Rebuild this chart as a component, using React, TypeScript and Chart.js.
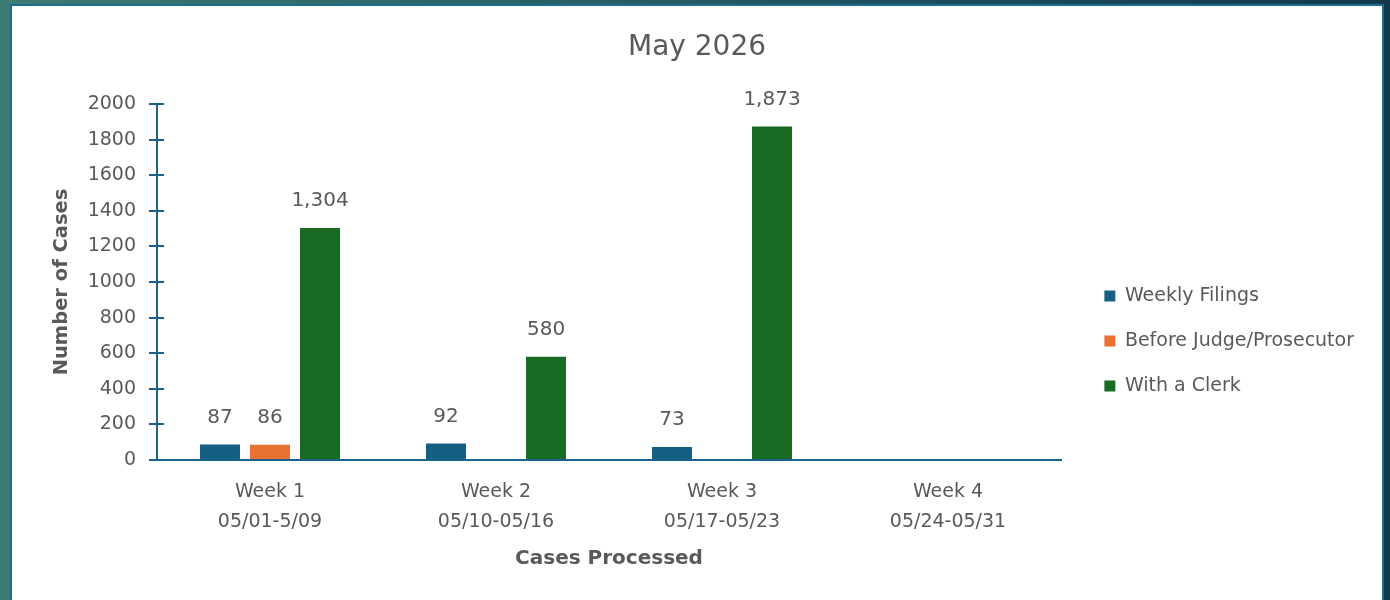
import React, { useEffect, useRef } from "react";
import { Chart, registerables } from "chart.js";

Chart.register(...registerables);

const chartTitle = "May 2026";
const categories: string[][] = [
  ["Week 1", "05/01-5/09"],
  ["Week 2", "05/10-05/16"],
  ["Week 3", "05/17-05/23"],
  ["Week 4", "05/24-05/31"],
];
const seriesNames = ["Weekly Filings", "Before Judge/Prosecutor", "With a Clerk"];
const weeklyFilings: (number | null)[] = [87, 92, 73, null];
const beforeJudge: (number | null)[] = [86, null, null, null];
const withClerk: (number | null)[] = [1304, 580, 1873, null];
const seriesColors = ["#156082", "#E97132", "#196B24"];
const yMin = 0;
const yMax = 2000;
const yStep = 200;
const yTitle = "Number of Cases";
const xTitle = "Cases Processed";

const FONT = "'DejaVu Sans', sans-serif";
const TEXT = "#595959";
const AXIS = "#17638c";

const CANVAS_W = 1370;
const CANVAS_H = 670;
const SIDE_PAD = 18;
const AREA_LEFT = 145;
const AREA_RIGHT = 1049;
const AREA_BOTTOM = 454;

const dataLabelPlugin = {
  id: "dataLabels",
  afterDatasetsDraw(chart: any) {
    const ctx = chart.ctx;
    ctx.save();
    ctx.font = `20px ${FONT}`;
    ctx.fillStyle = TEXT;
    ctx.textAlign = "center";
    ctx.textBaseline = "middle";
    chart.data.datasets.forEach((ds: any, i: number) => {
      const meta = chart.getDatasetMeta(i);
      meta.data.forEach((el: any, j: number) => {
        const v = ds.data[j];
        if (v === null || v === undefined) return;
        ctx.fillText(Number(v).toLocaleString("en-US"), el.x, el.y - 27);
      });
    });
    ctx.restore();
  },
};

const innerTickPlugin = {
  id: "innerTicks",
  afterDraw(chart: any) {
    const ctx = chart.ctx;
    const y = chart.scales.y;
    ctx.save();
    ctx.strokeStyle = AXIS;
    ctx.lineWidth = 2;
    y.ticks.forEach((t: any) => {
      const py = Math.round(y.getPixelForValue(t.value));
      ctx.beginPath();
      ctx.moveTo(chart.chartArea.left, py);
      ctx.lineTo(chart.chartArea.left + 7, py);
      ctx.stroke();
    });
    ctx.restore();
  },
};

export default function App() {
  const ref = useRef<HTMLCanvasElement | null>(null);
  useEffect(() => {
    if (!ref.current) return;
    const data = [weeklyFilings, beforeJudge, withClerk];
    const chart = new Chart(ref.current, {
      type: "bar",
      data: {
        labels: categories,
        datasets: seriesNames.map((name, i) => ({
          label: name,
          data: data[i],
          backgroundColor: seriesColors[i],
          borderWidth: 0,
          categoryPercentage: 0.664,
          barPercentage: 0.8,
        })),
      },
      plugins: [dataLabelPlugin, innerTickPlugin],
      options: {
        responsive: false,
        animation: false,
        devicePixelRatio: 1,
        layout: { padding: { left: SIDE_PAD, right: SIDE_PAD, top: 0, bottom: 0 } },
        plugins: {
          title: {
            display: true,
            text: chartTitle,
            color: TEXT,
            font: { family: FONT, size: 28, weight: "normal", lineHeight: 1.2 },
            padding: { top: 25, bottom: 39.4 },
          },
          legend: {
            position: "right",
            align: "center",
            maxWidth: 400,
            labels: {
              color: TEXT,
              font: { family: FONT, size: 19 },
              boxWidth: 11,
              boxHeight: 11,
              padding: 26,
            },
          },
          tooltip: { enabled: false },
        },
        scales: {
          x: {
            grid: { display: false },
            border: { display: true, color: AXIS, width: 2 },
            ticks: {
              color: TEXT,
              font: { family: FONT, size: 19, lineHeight: "30px" },
              padding: 9,
              maxRotation: 0,
            },
            title: {
              display: true,
              text: xTitle,
              color: TEXT,
              font: { family: FONT, size: 20, weight: "bold", lineHeight: 1.2 },
              padding: { top: 0, bottom: 105 },
            },
            afterFit(s: any) {
              s.height = CANVAS_H - AREA_BOTTOM;
            },
          },
          y: {
            min: yMin,
            max: yMax,
            grid: {
              display: true,
              drawOnChartArea: false,
              drawTicks: true,
              tickLength: 8,
              color: AXIS,
              lineWidth: 2,
            },
            border: { display: true, color: AXIS, width: 2 },
            ticks: {
              stepSize: yStep,
              color: TEXT,
              font: { family: FONT, size: 19 },
              padding: 13,
              callback: (v: any) => String(v),
            },
            title: {
              display: true,
              text: yTitle,
              color: TEXT,
              font: { family: FONT, size: 19.5, weight: "bold", lineHeight: 1.2 },
              padding: { top: 38 - SIDE_PAD, bottom: 0 },
            },
            afterFit(s: any) {
              s.width = AREA_LEFT - SIDE_PAD;
            },
          },
          spacer: {
            type: "linear",
            position: "right",
            display: true,
            grid: { display: false },
            border: { display: false },
            ticks: { display: false },
            afterFit(s: any) {
              const lw = s.chart.legend ? s.chart.legend.width : 0;
              s.width = Math.max(0, CANVAS_W - SIDE_PAD - lw - AREA_RIGHT);
            },
          },
        },
      } as any,
    });
    return () => chart.destroy();
  }, []);

  return (
    <div
      style={{
        position: "fixed",
        inset: 0,
        overflow: "hidden",
        background:
          "linear-gradient(to right, #3b7b71 0%, #2b6567 35%, #1b4c59 70%, #123a4a 100%)",
      }}
    >
      <div
        style={{
          position: "absolute",
          left: 10,
          top: 4,
          width: 1374,
          height: 700,
          boxSizing: "border-box",
          border: "2px solid #1d6b95",
          background: "#ffffff",
        }}
      >
        <canvas
          ref={ref}
          width={CANVAS_W}
          height={CANVAS_H}
          style={{ display: "block", width: CANVAS_W, height: CANVAS_H }}
        />
      </div>
    </div>
  );
}
